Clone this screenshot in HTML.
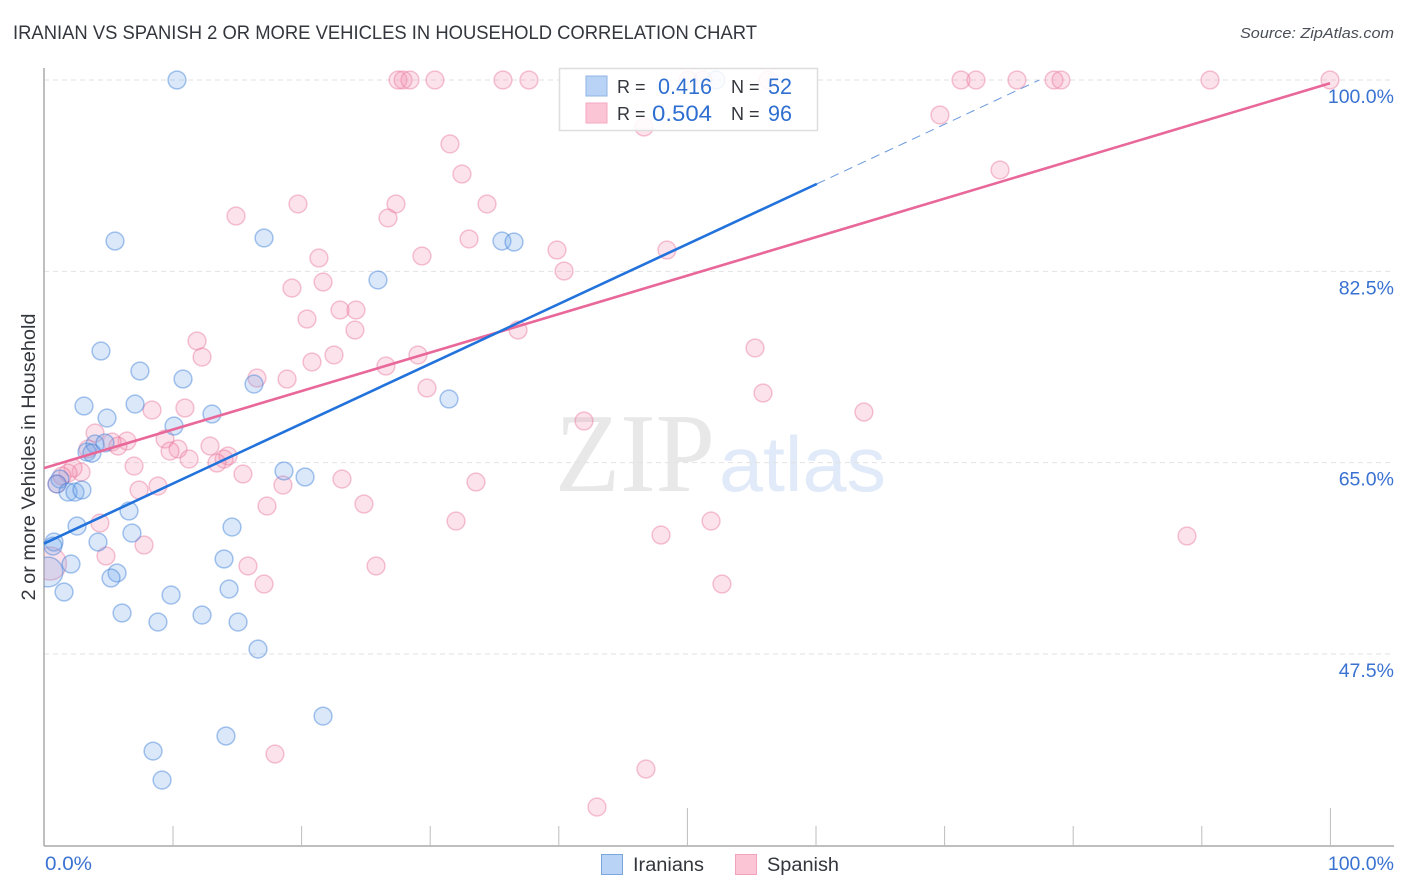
<!DOCTYPE html>
<html lang="en">
<head>
<meta charset="utf-8">
<title>Iranian vs Spanish 2 or more Vehicles in Household Correlation Chart</title>
<style>
html,body{margin:0;padding:0;background:#fff;width:1406px;height:892px;overflow:hidden}
svg{display:block;font-family:"Liberation Sans",sans-serif}
</style>
</head>
<body>
<svg id="chart" width="1406" height="892" viewBox="0 0 1406 892">
<defs><clipPath id="plot-clip"><rect x="44" y="60" width="1362" height="786"/></clipPath></defs>
<rect x="0" y="0" width="1406" height="892" fill="#fff"/>
<text x="13" y="39" font-size="19" fill="#33373d" textLength="744" lengthAdjust="spacingAndGlyphs">IRANIAN VS SPANISH 2 OR MORE VEHICLES IN HOUSEHOLD CORRELATION CHART</text>
<text x="1394" y="38" font-size="15" font-style="italic" fill="#4a4f57" text-anchor="end" textLength="154" lengthAdjust="spacingAndGlyphs">Source: ZipAtlas.com</text>
<g>
<text x="555" y="491" font-family="'Liberation Serif',serif" font-size="112" fill="#e8e8e8" textLength="160" lengthAdjust="spacingAndGlyphs">ZIP</text>
<text x="719" y="491" font-size="78" fill="#e1eaf9" textLength="167" lengthAdjust="spacingAndGlyphs">atlas</text>
</g>
<g id="grid"></g>
<g id="axes"></g>
<g id="spanish-points" clip-path="url(#plot-clip)"></g>
<g id="iranian-points" clip-path="url(#plot-clip)"></g>
<g id="trends"></g>
<text x="35" y="457" font-size="19" fill="#33373d" text-anchor="middle" transform="rotate(-90 35 457)" textLength="287" lengthAdjust="spacingAndGlyphs">2 or more Vehicles in Household</text>

<g>
<rect x="559.5" y="68.5" width="258" height="62" fill="#fff" fill-opacity="0.86" stroke="#dedede" stroke-width="1.5"/>
<rect x="586" y="76" width="21" height="20" fill="#b8d3f6" stroke="#8fb4e6"/>
<rect x="586" y="103" width="21" height="20" fill="#fcc5d6" stroke="#f3a9c0"/>
<text x="617" y="93" font-size="18" fill="#33373d">R =</text>
<text x="712" y="94" font-size="22" fill="#2f6fd0" text-anchor="end" textLength="54" lengthAdjust="spacingAndGlyphs">0.416</text>
<text x="731" y="93" font-size="18" fill="#33373d">N =</text>
<text x="792" y="94" font-size="22" fill="#2f6fd0" text-anchor="end" textLength="24" lengthAdjust="spacingAndGlyphs">52</text>
<text x="617" y="120" font-size="18" fill="#33373d">R =</text>
<text x="712" y="121" font-size="22" fill="#2f6fd0" text-anchor="end" textLength="60" lengthAdjust="spacingAndGlyphs">0.504</text>
<text x="731" y="120" font-size="18" fill="#33373d">N =</text>
<text x="792" y="121" font-size="22" fill="#2f6fd0" text-anchor="end" textLength="24" lengthAdjust="spacingAndGlyphs">96</text>
</g>

<g>
<g>
<rect x="601.5" y="854.5" width="21" height="20" fill="#b8d3f6" stroke="#7ba7de"/>
<text x="633" y="871" font-size="19" fill="#33373d" textLength="71" lengthAdjust="spacingAndGlyphs">Iranians</text>
</g>
<g>
<rect x="735.5" y="854.5" width="21" height="20" fill="#fcc5d6" stroke="#f0a3bb"/>
<text x="767" y="871" font-size="19" fill="#33373d" textLength="72" lengthAdjust="spacingAndGlyphs">Spanish</text>
</g>
</g>
</svg>
<script>
const yTickValues = [100, 82.5, 65, 47.5];
const yTickLabels = ["100.0%", "82.5%", "65.0%", "47.5%"];
const xTickValues = [10, 20, 30, 40, 50, 60, 70, 80, 90, 100];
const xMajorTicks = [50, 100];
const xEndLabels = ["0.0%", "100.0%"];

const iranianX = [10.34,52.26,5.52,17.11,35.61,36.55,25.97,4.43,7.46,10.81,16.33,31.49,3.11,7.08,4.90,13.06,10.11,3.97,4.74,3.34,3.73,18.66,20.30,1.24,1.01,1.87,2.41,2.95,6.61,2.57,6.84,14.62,0.78,0.70,4.20,2.10,14.00,0.31,5.68,5.21,1.56,14.39,9.88,6.07,12.29,8.86,15.09,16.64,21.70,14.15,8.48,9.18];
const iranianY = [100,100,85.27,85.55,85.27,85.18,81.71,75.21,73.38,72.65,72.19,70.82,70.18,70.36,69.08,69.45,68.35,66.70,66.80,65.97,65.88,64.24,63.69,63.50,63.05,62.31,62.31,62.50,60.58,59.20,58.56,59.11,57.74,57.37,57.74,55.73,56.19,55.00,54.91,54.45,53.17,53.44,52.89,51.25,51.06,50.42,50.42,47.95,41.82,40.00,38.62,35.97];
const iranianWeight = {37: 2.8};

const spanishX = [27.53,27.92,28.46,30.40,35.69,37.71,50.08,51.24,56.30,71.31,72.47,75.66,78.54,79.08,90.67,100,46.66,69.67,31.57,32.50,74.34,34.45,27.37,19.75,14.93,26.75,33.05,21.38,39.89,48.44,29.39,40.44,21.70,19.28,23.02,24.26,20.45,24.18,36.86,11.90,12.29,55.29,22.55,29.08,20.84,26.59,16.56,18.90,55.91,29.78,10.96,8.40,63.76,41.99,3.97,9.41,6.45,5.29,5.75,3.42,10.42,9.80,11.28,12.91,14.31,14.00,13.45,7.00,15.47,2.88,2.26,1.87,1.40,1.01,33.59,23.17,18.58,7.39,8.86,24.88,17.34,4.35,32.04,51.87,47.98,88.88,7.78,4.82,25.82,15.86,17.11,52.72,0.47,17.96,46.81,43.00];
const spanishY = [100,100,100,100,100,100,100,100,100,100,100,100,100,100,100,100,95.70,96.80,94.15,91.40,91.77,88.66,88.66,88.66,87.56,87.38,85.46,83.72,84.45,84.45,83.90,82.53,81.52,80.97,78.96,78.96,78.14,77.13,77.13,76.13,74.66,75.49,74.85,74.85,74.21,73.84,72.74,72.65,71.37,71.83,70.00,69.81,69.63,68.81,67.71,67.16,66.98,66.89,66.52,66.25,66.25,66.06,65.33,66.52,65.61,65.33,64.97,64.69,63.96,64.14,64.51,64.05,63.78,63.05,63.23,63.50,62.95,62.50,62.86,61.22,61.03,59.48,59.66,59.66,58.38,58.29,57.47,56.46,55.55,55.55,53.90,53.90,55.77,38.35,36.98,33.50];
const spanishWeight = {92: 3.4};

const iranianTrendX = [0, 60.1];
const iranianTrendY = [57.6, 90.5];
const iranianTrendExtensionX = [60.1, 77.4];
const iranianTrendExtensionY = [90.5, 100];
const spanishTrendX = [0, 100];
const spanishTrendY = [64.5, 99.7];

const SVGNS = "http://www.w3.org/2000/svg";
const plot = {left: 44, right: 1394, top: 68, bottom: 846, x0: 44, x100: 1330, y100: 80, y475: 654};
function xScale(v) { return plot.x0 + (plot.x100 - plot.x0) * v / 100; }
function yScale(v) { return plot.y100 + (plot.y475 - plot.y100) * (100 - v) / 52.5; }
function make(tag, attrs, parent) {
  const el = document.createElementNS(SVGNS, tag);
  for (const k in attrs) el.setAttribute(k, attrs[k]);
  parent.appendChild(el);
  return el;
}
const grid = document.getElementById("grid");
const axes = document.getElementById("axes");
yTickValues.forEach(function (v, i) {
  const line = make("line", {x1: plot.left, x2: plot.right, y1: yScale(v), y2: yScale(v), stroke: "#e2e2e2", "stroke-width": 1, "stroke-dasharray": "5 4"}, grid);
  
  
  const label = make("text", {x: 1394, y: yScale(v) + 23, "text-anchor": "end", "font-size": 19.5, fill: "#3a72d2"}, axes);
  label.textContent = yTickLabels[i];
  
  
});
const yAxis = make("line", {x1: plot.left, x2: plot.left, y1: plot.top, y2: plot.bottom, stroke: "#aaaaaa", "stroke-width": 1.5}, axes);


const xAxis = make("line", {x1: plot.left, x2: plot.right, y1: plot.bottom, y2: plot.bottom, stroke: "#aaaaaa", "stroke-width": 1.5}, axes);


xTickValues.forEach(function (v) {
  const major = xMajorTicks.indexOf(v) >= 0;
  const tick = make("line", {x1: xScale(v) + 0.4, x2: xScale(v) + 0.4, y1: major ? 808 : 826, y2: plot.bottom, stroke: "#bdbdbd", "stroke-width": 1}, axes);
  
  
});
const xLabelLeft = make("text", {x: 45, y: 870, "font-size": 19.5, fill: "#3a72d2", textLength: 47, lengthAdjust: "spacingAndGlyphs"}, axes);
xLabelLeft.textContent = xEndLabels[0];


const xLabelRight = make("text", {x: 1394, y: 870, "font-size": 19.5, "text-anchor": "end", fill: "#3a72d2"}, axes);
xLabelRight.textContent = xEndLabels[1];



function drawPoints(groupId, xs, ys, weights, fill, stroke, pointName) {
  const g = document.getElementById(groupId);
  xs.forEach(function (x, i) {
    const w = weights[i] || 1;
    const c = make("circle", {cx: xScale(x), cy: yScale(ys[i]), r: 8.9 * Math.sqrt(w), fill: fill, "fill-opacity": 0.26, stroke: stroke, "stroke-opacity": 0.45, "stroke-width": 1.5}, g);
    
    
  });
}
drawPoints("spanish-points", spanishX, spanishY, spanishWeight, "#f593b3", "#e87a9f", "spanish-point");
drawPoints("iranian-points", iranianX, iranianY, iranianWeight, "#6fa8ec", "#3f7fd6", "iranian-point");

const trends = document.getElementById("trends");
const t1 = make("line", {x1: xScale(spanishTrendX[0]), y1: yScale(spanishTrendY[0]), x2: xScale(spanishTrendX[1]), y2: yScale(spanishTrendY[1]), stroke: "#e8689a", "stroke-width": 2.6}, trends);


const t2 = make("line", {x1: xScale(iranianTrendX[0]), y1: yScale(iranianTrendY[0]), x2: xScale(iranianTrendX[1]), y2: yScale(iranianTrendY[1]), stroke: "#2272dc", "stroke-width": 2.6}, trends);


const t3 = make("line", {x1: xScale(iranianTrendExtensionX[0]), y1: yScale(iranianTrendExtensionY[0]), x2: xScale(iranianTrendExtensionX[1]), y2: yScale(iranianTrendExtensionY[1]), stroke: "#6a98dc", "stroke-width": 1, "stroke-dasharray": "9 6"}, trends);


</script>
</body>
</html>
